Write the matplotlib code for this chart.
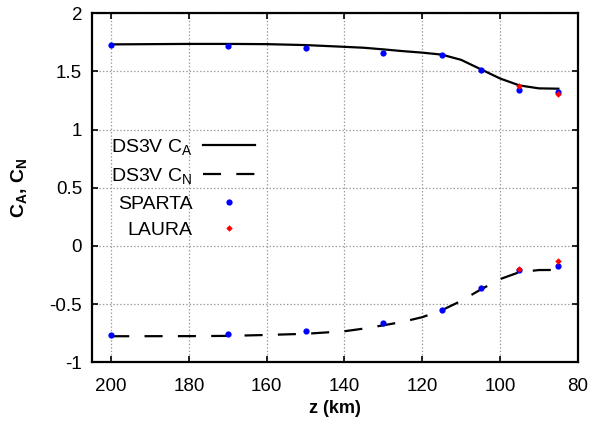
import matplotlib
matplotlib.use('Agg')
import matplotlib.pyplot as plt

plt.rcParams['font.family'] = ['Liberation Sans', 'DejaVu Sans']
plt.rcParams['mathtext.fontset'] = 'custom'
plt.rcParams['mathtext.rm'] = 'Liberation Sans'
plt.rcParams['mathtext.bf'] = 'Liberation Sans:bold'
plt.rcParams['lines.scale_dashes'] = False

# DS3V curves
z_ds3v = [200, 180, 170, 160, 150, 140, 135, 130, 125, 120, 115, 110, 105, 100, 95, 90, 85]
ca_ds3v = [1.733, 1.737, 1.737, 1.735, 1.727, 1.712, 1.704, 1.690, 1.675, 1.662, 1.645, 1.600, 1.520, 1.440, 1.380, 1.355, 1.352]
cn_ds3v = [-0.776, -0.775, -0.773, -0.765, -0.755, -0.733, -0.710, -0.682, -0.652, -0.612, -0.553, -0.472, -0.375, -0.285, -0.225, -0.207, -0.206]

# SPARTA points
z_sparta = [200, 170, 150, 130, 115, 105, 95, 85]
ca_sparta = [1.724, 1.720, 1.700, 1.661, 1.638, 1.511, 1.345, 1.320]
cn_sparta = [-0.767, -0.753, -0.727, -0.661, -0.552, -0.359, -0.207, -0.172]

# LAURA points
z_laura = [95, 85]
ca_laura = [1.373, 1.308]
cn_laura = [-0.195, -0.127]

fig = plt.figure(figsize=(5.92, 4.23), dpi=100)
ax = fig.add_axes([0.155, 0.1435, 0.821, 0.825])

ax.plot(z_ds3v, ca_ds3v, color='black', lw=1.6, label=r'DS3V C$_\mathrm{A}$')
ax.plot(z_ds3v, cn_ds3v, color='black', lw=1.6, dashes=(13, 11), label=r'DS3V C$_\mathrm{N}$')
ax.plot(z_sparta, ca_sparta, 'o', color='#0000ff', ms=4.5, mec='none', label='SPARTA')
ax.plot(z_sparta, cn_sparta, 'o', color='#0000ff', ms=4.5, mec='none')
ax.plot(z_laura, ca_laura, 'D', color='#ff0000', ms=3.3, mec='none', label='LAURA')
ax.plot(z_laura, cn_laura, 'D', color='#ff0000', ms=3.3, mec='none')

ax.set_xlim(205, 80)
ax.set_ylim(-1, 2)
ax.set_xticks([200, 180, 160, 140, 120, 100, 80])
ax.set_yticks([-1, -0.5, 0, 0.5, 1, 1.5, 2])
ax.set_yticklabels(['-1', '-0.5', '0', '0.5', '1', '1.5', '2'])
ax.tick_params(direction='in', length=4, width=1.2, top=True, right=True,
               labelsize=13.5, pad=7)
ax.tick_params(axis='x', pad=11)
ax.grid(True, color='#999999', ls=(0, (1, 1.5)), lw=0.9)
for s in ax.spines.values():
    s.set_linewidth(1.6)

ax.set_xlabel('z (km)', fontsize=13, fontweight='bold', labelpad=4)
ax.set_ylabel(r'$\mathbf{C_A}$, $\mathbf{C_N}$', fontsize=14, fontweight='bold', labelpad=15)

ax.legend(loc='upper right', bbox_to_anchor=(0.336, 0.645), frameon=False,
          markerfirst=False, fontsize=14, handlelength=2.7, labelspacing=0.45,
          handletextpad=0.5, borderpad=0, borderaxespad=0)

fig.savefig('out.png', dpi=100)
